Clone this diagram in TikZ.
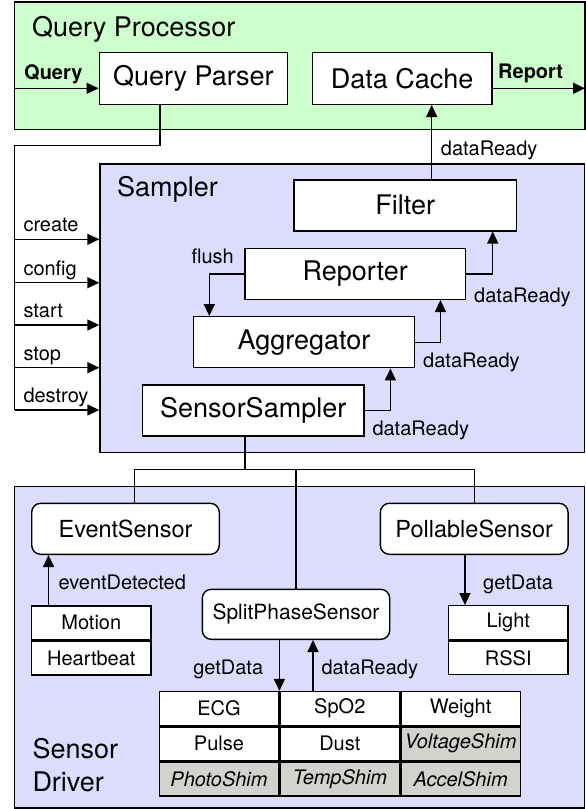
\documentclass[tikz,border=0pt]{standalone}
\usepackage{fontspec}
\setmainfont{TeX Gyre Heros}
\usetikzlibrary{arrows.meta,positioning}
\definecolor{qpgreen}{RGB}{204,255,204}
\definecolor{smpblue}{RGB}{220,220,255}
\definecolor{shimgray}{RGB}{210,211,207}
\newcommand\boxfont{\fontsize{27}{32}\selectfont}
\newcommand\sensfont{\fontsize{23.5}{28}\selectfont}
\newcommand\lblfont{\fontsize{20}{24}\selectfont}
\tikzset{
  frame/.style={draw, line width=1.4pt, inner sep=0pt},
  area/.style={frame},
  box/.style={frame, fill=white, font=\boxfont, minimum height=51pt},
  rbox/.style={frame, fill=white, rounded corners=9pt, font=\sensfont, minimum height=51pt},
  cell/.style={frame, fill=white, font=\lblfont, minimum width=119.4pt, minimum height=33.8pt},
  shim/.style={cell, fill=shimgray, font=\lblfont\itshape},
  title/.style={font=\boxfont, inner sep=0pt},
  lbl/.style={font=\lblfont, inner sep=0pt},
  blbl/.style={font=\lblfont\bfseries, inner sep=0pt},
  ln/.style={line width=1.4pt},
  arr/.style={line width=1.4pt, -{Triangle[length=12pt,width=11pt]}}
}
\begin{document}
\begin{tikzpicture}[x=1pt,y=-1pt]
\useasboundingbox (0,0) rectangle (586,809);

% the three areas
\node[area, fill=qpgreen, minimum width=570.3pt, minimum height=127.3pt] (qpa) at (299.85,65.65) {};
\node[area, fill=smpblue, minimum width=484.7pt, minimum height=288.7pt] (smp) at (342.35,308.35) {};
\node[area, fill=smpblue, minimum width=570pt, minimum height=321.3pt] (sda) at (299.7,647.35) {};
\node[title, anchor=base west] at (32,36) {Query Processor};
\node[title, anchor=base west] at (117,196.7) {Sampler};
\node[title, anchor=base west] (sdt) at (32.3,758.3) {Sensor};
\node[title, anchor=base west] at ([yshift=-33.4pt]sdt.base west) {Driver};

% query processor
\node[box, minimum width=188pt, minimum height=51.6pt] (qp) at (193.3,78.5) {Query Parser};
\node[box, minimum width=179.7pt, minimum height=51.6pt] (dc) at (402.2,78.5) {Data Cache};
\coordinate (qin) at (14.7,88.3);
\coordinate (rout) at (585,88.3);
\draw[arr] (qin) -- (qin -| qp.west);
\draw[arr] (rout -| dc.east) -- (rout);
\node[blbl, anchor=base west] at (24,79) {Query};
\node[blbl, anchor=base west] at (498,78) {Report};

% sampler
\node[box, minimum width=222.3pt] (flt) at (405.2,205.3) {Filter};
\node[box, minimum width=220.3pt] (rep) at (355.2,273.8) {Reporter};
\node[box, minimum width=221.4pt] (agg) at (304,342.2) {Aggregator};
\node[box, minimum width=221.3pt] (ss) at (253.3,410.3) {SensorSampler};
\draw[arr] (ss.east) -| ([xshift=-25pt]agg.south east);
\draw[arr] (agg.east) -| ([xshift=-25.6pt]rep.south east);
\draw[arr] (rep.east) -| ([xshift=-24.3pt]flt.south east);
\draw[arr] ([xshift=26.5pt]flt.north) -- ([xshift=26.5pt]flt.north |- dc.south);
\draw[arr] (rep.west) -| ([xshift=16.7pt]agg.north west);
\node[lbl, anchor=base west] at (440.7,155.5) {dataReady};
\node[lbl, anchor=base west] at (474,302) {dataReady};
\node[lbl, anchor=base west] at (423,367) {dataReady};
\node[lbl, anchor=base west] at (372.3,435.5) {dataReady};
\node[lbl, anchor=base east] at (234,263) {flush};

% commands into the sampler
\foreach \y/\t in {239.3/create, 282.7/config, 325/start, 367.7/stop, 410/destroy}
{
\coordinate (c\t) at (14.7,\y);
\draw[arr] (c\t) -- (c\t -| smp.west);
\node[lbl, anchor=base west] at ([xshift=8.6pt,yshift=7.6pt]c\t) {\t};
}
\draw[ln] ([xshift=-33.3pt]qp.south) |- (14.7,145.7) -- (cdestroy);

% sensor driver
\node[rbox, minimum width=187.6pt] (es) at (125.5,528.8) {EventSensor};
\node[rbox, minimum width=187.7pt] (ps) at (474.2,528.8) {PollableSensor};
\node[rbox, minimum width=187.4pt, minimum height=50pt, font=\fontsize{21}{25}\selectfont] (sps) at (296,614.3) {SplitPhaseSensor};
\coordinate (bus) at (0,469.3);
\draw[ln] ([xshift=-8.3pt]ss.south) -- ([xshift=-8.3pt]ss.south |- bus);
\draw[ln] ([xshift=8.8pt]es.north) |- (bus -| ps.north) -- (ps.north);
\draw[ln] (sps.north) -- (sps.north |- bus);

\node[cell, minimum width=119.3pt] (motion) at (91.3,622.8) {Motion};
\node[cell, minimum width=119.3pt, below=0pt of motion] (heart) {Heartbeat};
\node[cell, minimum width=119.3pt] (light) at (508.3,622.6) {Light};
\node[cell, minimum width=119.3pt, below=0pt of light] (rssi) {RSSI};
\draw[arr] ([xshift=17.6pt]motion.north west) -- ([xshift=17.6pt]motion.north west |- es.south);
\draw[arr] ([xshift=17pt]light.north west |- ps.south) -- ([xshift=17pt]light.north west);
\node[lbl, anchor=base west] at (58.3,589.5) {eventDetected};
\node[lbl, anchor=base west] at (483,589.5) {getData};

\node[cell] (c11) at (219,708.5) {ECG};
\node[cell, right=0pt of c11] (c12) {SpO2};
\node[cell, right=0pt of c12] (c13) {Weight};
\node[cell, below=0pt of c11] (c21) {Pulse};
\node[cell, below=0pt of c12] (c22) {Dust};
\node[shim, below=0pt of c13] (c23) {VoltageShim};
\node[shim, below=0pt of c21] (c31) {PhotoShim};
\node[shim, below=0pt of c22] (c32) {TempShim};
\node[shim, below=0pt of c23] (c33) {AccelShim};
\draw[arr] (c11.north east |- sps.south) -- (c11.north east);
\draw[arr] ([xshift=33.6pt]c12.north west) -- ([xshift=33.6pt]c12.north west |- sps.south);
\node[lbl, anchor=base east] at (263.3,674) {getData};
\node[lbl, anchor=base west] at (321.3,674) {dataReady};
\end{tikzpicture}
\end{document}
